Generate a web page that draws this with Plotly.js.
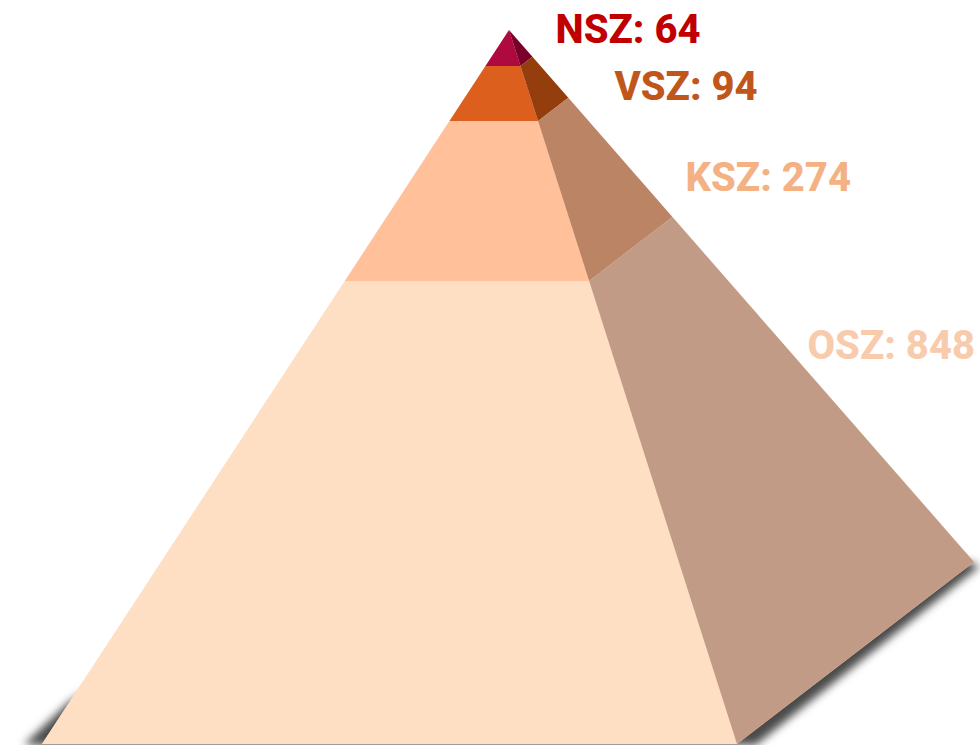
<!DOCTYPE html>
<html>
<head>
<meta charset="utf-8">
<script src="https://cdn.plot.ly/plotly-3.0.1.min.js"></script>
<style>html,body{margin:0;padding:0;background:#fff;overflow:hidden}#chart{width:980px;height:745px}</style>
</head>
<body>
<div id="chart"></div>
<script>
// Data
const categories = ['NSZ', 'VSZ', 'KSZ', 'OSZ'];
const values = [64, 94, 274, 848];
// Lower edge of each tier as a share of the pyramid height
const tierBottoms = [0.0504, 0.1275, 0.3515, 1];

// Styles
const frontColors = ['#AE0A3F', '#DC5F1E', '#FFC09A', '#FEDFC4'];
const sideColors = ['#7A002C', '#943D0D', '#BA8465', '#C19B85'];
const textColors = ['#C00000', '#C0561A', '#F4B183', '#F8CBAD'];

// Layout geometry
const apex = [509, 30], baseLeft = [42, 744], baseMid = [737, 744], baseRight = [974, 562];
const labelX = [555.5, 614.5, 685.5, 807.5], labelY = [33, 90, 181, 349];
const shadowX = [10, 68, 509, 980, 747, 10], shadowY = [758, 703, 400, 566, 752, 758];

const along = (p, t) => [apex[0] + (p[0] - apex[0]) * t, apex[1] + (p[1] - apex[1]) * t];
function face(a, b, t0, t1) {
  const pts = [along(a, t0), along(b, t0), along(b, t1), along(a, t1), along(a, t0)];
  return { x: pts.map(p => p[0]), y: pts.map(p => p[1]) };
}

const traces = [];
traces.push({ x: shadowX, y: shadowY, type: 'scatter', mode: 'lines', fill: 'toself',
  fillcolor: '#4a4a4a', line: { width: 0 }, hoverinfo: 'skip', name: 'shadow' });
// Pale underlay keeps the shadow from showing through the seams between faces
traces.push({ x: [apex[0], baseLeft[0], baseMid[0], baseRight[0], apex[0]],
  y: [apex[1], baseLeft[1], baseMid[1], baseRight[1], apex[1]],
  type: 'scatter', mode: 'lines', fill: 'toself', fillcolor: '#FEE4CE',
  line: { width: 0 }, hoverinfo: 'skip', name: 'underlay' });
categories.forEach((c, i) => {
  const t0 = i ? tierBottoms[i - 1] : 0, t1 = tierBottoms[i];
  const f = face(baseLeft, baseMid, t0, t1), s = face(baseMid, baseRight, t0, t1);
  traces.push({ ...f, type: 'scatter', mode: 'lines', fill: 'toself', fillcolor: frontColors[i],
    line: { width: 0 }, name: c, text: c + ': ' + values[i], hoverinfo: 'text' });
  traces.push({ ...s, type: 'scatter', mode: 'lines', fill: 'toself', fillcolor: sideColors[i],
    line: { width: 0 }, name: c, text: c + ': ' + values[i], hoverinfo: 'text' });
});
traces.push({
  x: labelX, y: labelY, type: 'scatter', mode: 'text',
  text: categories.map((c, i) => c + ': ' + values[i]),
  textposition: 'middle right',
  textfont: { family: 'Roboto, Arial, sans-serif', size: 40, color: textColors, weight: 800 },
  hoverinfo: 'skip', cliponaxis: false
});

const axis = { visible: false, fixedrange: true, zeroline: false, showgrid: false };
Plotly.newPlot('chart', traces, {
  width: 980, height: 745, margin: { l: 0, r: 0, t: 0, b: 0 },
  paper_bgcolor: '#ffffff', plot_bgcolor: '#ffffff', showlegend: false,
  xaxis: { ...axis, range: [0, 980] },
  yaxis: { ...axis, range: [745, 0] }
}, { displayModeBar: false }).then(() => {
  const t = document.querySelectorAll('#chart .scatterlayer .trace')[0];
  if (t) t.style.filter = 'blur(4px)';
});
</script>
</body>
</html>
